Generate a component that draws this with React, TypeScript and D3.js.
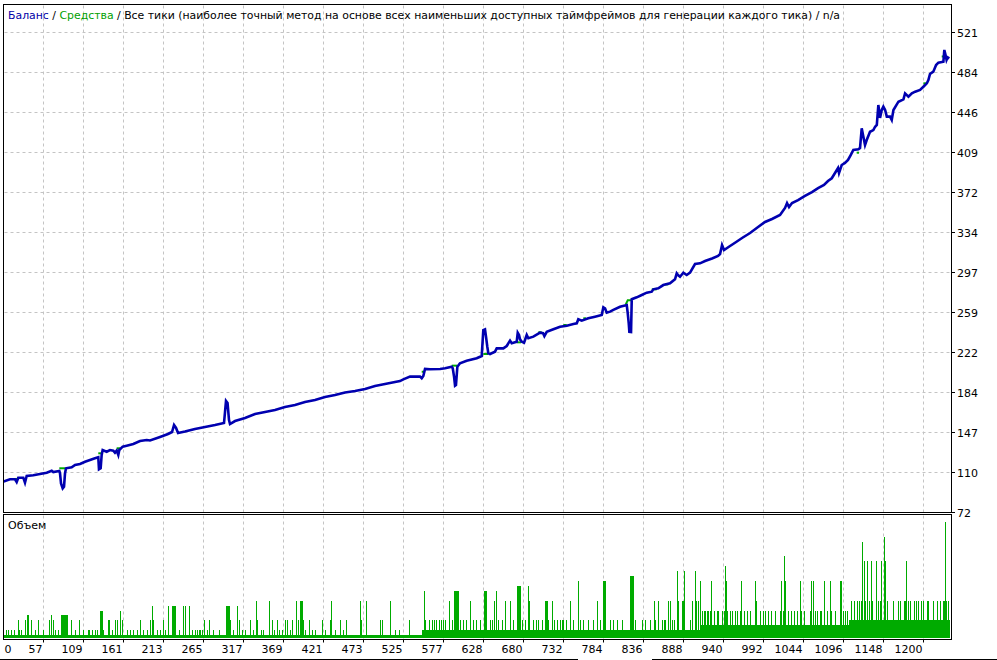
import React from "react";
import * as d3 from "d3";

const W = 997;
const H = 660;

// ---------- Data ----------
const titleParts = [
  { text: "Баланс", color: "#0000a8" },
  { text: " / ", color: "#000000" },
  { text: "Средства", color: "#00a000" },
  { text: " / Все тики (наиболее точный метод на основе всех наименьших доступных таймфреймов для генерации каждого тика) / n/a", color: "#000000" },
];

const yTickValues = [72, 109.42, 146.83, 184.25, 221.67, 259.08, 296.5, 333.92, 371.33, 408.75, 446.17, 483.58, 521];
const yTickLabels = ["72", "110", "147", "184", "222", "259", "297", "334", "372", "409", "446", "484", "521"];

const xTickValues = [57, 109, 161, 213, 265, 317, 369, 421, 473, 525, 577, 628, 680, 732, 784, 836, 888, 940, 992, 1044, 1096, 1148, 1200];
const xTickLabels = ["57", "109", "161", "213", "265", "317", "369", "421", "473", "525", "577", "628", "680", "732", "784", "836", "888", "940", "992", "1044", "1096", "1148", "1200"];

// balance curve (trade number, value)
const balanceT = [5.4, 14.1, 20.6, 22.8, 24.9, 31.4, 33.6, 35.8, 44.4, 53.1, 61.8, 68.3, 70.4, 78.2, 79.1, 80.4, 82.6, 84.3, 85.6, 86.9, 94.3, 98.6, 105.1, 111.6, 118.0, 124.5, 128.8, 129.7, 131.9, 133.2, 134.5, 139.7, 144.0, 148.3, 150.5, 152.7, 154.8, 156.1, 160.5, 165.7, 174.3, 183.0, 191.7, 196, 209, 219.4, 224.6, 227.2, 229.8, 232.4, 241.4, 254.4, 267.4, 280.4, 292.1, 293.4, 294.7, 296.7, 298.6, 299.9, 306.4, 319.4, 332.4, 345.4, 358.3, 371.3, 384.3, 397.3, 410.3, 423.3, 436.3, 449.3, 462.3, 475.3, 488.2, 501.2, 514.2, 520.7, 525.0, 533.7, 546.7, 548.9, 551.0, 553.2, 559.7, 572.7, 579.2, 587.9, 589.2, 590.9, 592.2, 593.4, 595.2, 598.6, 607.3, 620.3, 626.8, 628.9, 631.1, 632.4, 634.1, 635.4, 637.6, 644.1, 646.3, 654.9, 659.3, 663.6, 665.8, 672.3, 673.6, 675.3, 676.6, 678.8, 681.8, 685.3, 687.4, 693.9, 702.6, 706.5, 708.2, 711.3, 719.9, 728.6, 737.3, 745.9, 750.3, 752.3, 756.7, 765.3, 774.0, 782.7, 784.8, 787.0, 789.2, 793.5, 797.8, 806.5, 815.2, 816.5, 817.8, 818.6, 820.8, 821.7, 828.2, 834.7, 841.2, 847.7, 849.7, 856.2, 862.7, 871.4, 877.9, 880.1, 881.8, 884.4, 888.7, 893.1, 897.4, 903.9, 910.4, 916.9, 926.0, 933.8, 936.4, 939.0, 941.6, 949.4, 957.3, 965.0, 975.4, 985.8, 994.8, 1003.9, 1014.3, 1020.8, 1023.4, 1026.0, 1029.9, 1037.7, 1046.7, 1055.8, 1063.7, 1071.4, 1076.6, 1081.5, 1085.7, 1089.6, 1090.9, 1094.4, 1098.7, 1102.6, 1106.1, 1109.5, 1116.0, 1118.2, 1120.4, 1122.1, 1124.7, 1126.9, 1131.2, 1135.5, 1137.8, 1140.0, 1142.0, 1144.2, 1146.4, 1148.5, 1150.8, 1153.0, 1157.2, 1159.4, 1161.6, 1168.1, 1174.6, 1176.7, 1181.1, 1185.5, 1189.8, 1196.2, 1200.5, 1205.0, 1207.0, 1209.1, 1213.4, 1217.0, 1220.0, 1226.5, 1227.7, 1229.3, 1230.6, 1232.1, 1234.2];
const balanceV = [100.4, 102.6, 102.6, 100.0, 104.1, 104.1, 99.4, 105.7, 106.3, 107.5, 108.8, 110.6, 109.4, 110.4, 108.2, 98.8, 94.2, 95.7, 108.2, 112.9, 113.8, 116.0, 116.9, 119.0, 120.6, 122.2, 123.2, 112.0, 112.9, 125.3, 130.0, 128.4, 130.0, 129.4, 127.5, 129.4, 125.3, 130.0, 133.1, 134.0, 135.6, 138.4, 139.4, 138.9, 142.2, 145.0, 146.8, 153.4, 150.6, 145.9, 147.3, 149.6, 151.5, 153.3, 155.2, 165.5, 175.8, 173.9, 158.0, 154.3, 157.1, 159.9, 163.6, 165.5, 167.4, 170.2, 172.1, 174.9, 176.8, 179.6, 181.4, 183.8, 185.2, 187.1, 189.9, 191.7, 193.6, 194.5, 196.1, 198.6, 198.6, 197.1, 199.2, 205.8, 205.5, 205.8, 206.4, 207.9, 206.4, 198.6, 190.2, 190.8, 207.9, 211.1, 213.5, 215.8, 217.9, 242.2, 242.9, 236.0, 226.6, 220.5, 219.8, 222.0, 225.1, 225.1, 227.3, 232.3, 229.8, 231.3, 239.7, 237.6, 233.5, 231.3, 230.4, 237.6, 234.5, 236.0, 239.7, 239.2, 236.6, 240.6, 242.9, 245.3, 246.3, 247.9, 248.5, 252.3, 251.0, 253.2, 254.7, 256.3, 263.5, 262.5, 258.4, 259.4, 261.0, 264.0, 265.6, 257.9, 248.5, 240.6, 240.4, 271.0, 272.8, 275.0, 277.2, 278.1, 280.3, 281.2, 284.3, 285.9, 289.7, 295.3, 293.7, 292.1, 295.9, 293.7, 295.9, 304.0, 304.6, 306.8, 309.1, 311.5, 313.3, 321.7, 317.1, 320.8, 324.6, 328.3, 333.0, 338.6, 343.3, 346.1, 349.8, 356.4, 361.0, 357.3, 361.0, 363.8, 367.6, 371.3, 375.0, 377.9, 381.6, 384.2, 389.1, 393.8, 389.1, 396.6, 398.5, 401.3, 405.9, 410.6, 411.3, 412.5, 430.9, 424.7, 415.3, 420.0, 427.7, 429.3, 432.4, 434.0, 452.7, 440.6, 448.0, 451.1, 448.0, 441.8, 441.8, 438.7, 448.0, 455.8, 458.0, 463.6, 460.5, 463.6, 465.2, 466.8, 469.8, 473.0, 476.1, 481.7, 483.9, 490.1, 492.3, 493.2, 504.2, 499.5, 494.8, 497.3, 496.4];

// short visible pieces of the equity curve (trade, value)
const equitySegments: [number, number][][] = [
  [[20.6, 102.9], [23.9, 102.9]],
  [[78.2, 112.9], [85.6, 112.9]],
  [[128.8, 126.9], [133.2, 126.9]],
  [[152.7, 131.6], [157.0, 131.6]],
  [[548.9, 203.2], [552.3, 203.2]],
  [[587.9, 208.9], [594.8, 208.9]],
  [[628.9, 219.8], [635.0, 219.8]],
  [[672.3, 230.7], [677.9, 230.7]],
  [[700.3, 240.1], [704.8, 240.1]],
  [[732.9, 246.9], [737.3, 246.9]],
  [[758.8, 253.2], [762.3, 253.2]],
  [[813.9, 266.2], [816.5, 270.0], [821.7, 270.0]],
  [[847.7, 280.3], [854.2, 280.3]],
  [[865.0, 284.9], [869.2, 284.9]],
  [[1113.9, 408.1], [1116.9, 408.1]],
  [[1200.5, 473.0], [1205.0, 473.0]],
  [[1224.3, 498.1], [1228.6, 498.1]],
];

// volume: base level runs [from trade, to trade, level]
const volumeBaseRuns: [number, number, number][] = [
  [0, 549, 1],
  [549, 910, 2],
  [910, 1104, 3],
  [1104, 1235, 4],
];

// volume spikes: trade numbers and levels
const volumeT = [9, 12, 16, 19, 24, 26, 29, 34, 36, 37, 42, 47, 51, 57, 65, 67, 70, 73, 77, 80, 81, 82, 83, 84, 85, 86, 87, 88, 94, 99, 104, 109, 115, 117, 120, 125, 127, 131, 132, 133, 135, 141, 143, 146, 150, 153, 157, 159, 166, 170, 174, 179, 183, 187, 192, 196, 198, 200, 205, 209, 213, 216, 220, 225, 226, 227, 228, 229, 233, 239, 241, 246, 250, 254, 257, 259, 261, 263, 266, 270, 272, 278, 285, 295, 296, 297, 298, 300, 304, 309, 311, 315, 319, 326, 330, 334, 335, 340, 343, 350, 351, 354, 357, 361, 364, 367, 371, 374, 378, 380, 386, 388, 391, 392, 393, 395, 397, 402, 406, 410, 419, 423, 430, 431, 436, 443, 447, 451,
  469, 470, 477, 495, 497, 508, 514, 519, 533, 552, 553, 558, 562, 565, 568, 571, 574, 576, 579, 584, 588, 591, 592, 593, 594, 595, 596, 599, 603, 607, 611, 616, 620, 625, 630, 631, 632, 633, 637, 640, 643, 646, 648, 653, 657, 664, 668, 673, 674, 675, 676, 677, 679, 683, 687, 688, 694, 697, 700, 705, 709, 710, 711, 713, 718, 721, 724, 729, 731, 733, 736, 741, 746, 752, 755, 759, 765, 772, 776, 781, 785, 786, 787, 794, 798, 802, 809, 819, 820, 821, 822, 823, 826, 835, 839, 845, 850, 852, 856, 863, 871, 876, 880,
  861, 865, 869, 871, 874, 876, 881, 882, 887, 888, 889, 890, 898, 900, 904, 905, 908, 911, 913, 915, 917, 919, 921, 923, 925, 928, 932, 934, 939, 941, 943, 944, 946, 949, 952, 956, 959, 962, 964, 967, 971, 975, 982, 983, 988, 992, 995, 999, 1003, 1008, 1014, 1016, 1018, 1020, 1021, 1025, 1029, 1032, 1036, 1040, 1042, 1045, 1053, 1055, 1057, 1060, 1062, 1066, 1068, 1072, 1075, 1079, 1081, 1086, 1092, 1093, 1094, 1096, 1099, 1101,
  1107, 1111, 1114, 1117, 1119, 1121, 1123, 1125, 1127, 1130, 1132, 1134, 1139, 1141, 1144, 1146, 1149, 1151, 1153, 1161, 1168, 1170, 1175, 1177, 1178, 1180, 1183, 1188, 1191, 1194, 1197, 1200, 1205, 1207, 1213, 1218, 1222, 1226, 1227, 1229, 1230, 1232];
const volumeN = [2, 2, 2, 2, 4, 2, 2, 4, 5, 5, 4, 2, 4, 2, 4, 5, 4, 2, 2, 5, 5, 5, 5, 5, 5, 5, 5, 5, 4, 2, 4, 2, 2, 2, 2, 2, 2, 6, 6, 6, 2, 4, 4, 2, 4, 4, 6, 4, 2, 2, 2, 2, 4, 2, 2, 4, 7, 4, 2, 2, 4, 2, 7, 7, 7, 7, 7, 7, 2, 7, 7, 7, 2, 2, 2, 2, 2, 2, 4, 2, 4, 2, 2, 7, 7, 7, 7, 4, 2, 7, 4, 2, 2, 4, 2, 8, 4, 2, 2, 6, 8, 4, 2, 4, 2, 2, 4, 4, 2, 4, 8, 4, 8, 8, 8, 4, 2, 4, 2, 2, 4, 2, 4, 8, 2, 4, 2, 4,
  8, 4, 8, 4, 4, 8, 2, 2, 4, 10, 4, 4, 4, 4, 4, 4, 4, 4, 4, 8, 4, 10, 10, 10, 10, 10, 10, 4, 4, 4, 8, 4, 4, 4, 10, 10, 10, 10, 4, 4, 8, 10, 4, 4, 8, 8, 4, 11, 11, 11, 11, 11, 4, 4, 11, 8, 4, 4, 4, 4, 8, 8, 8, 4, 8, 4, 4, 4, 4, 4, 4, 8, 4, 12, 4, 4, 4, 4, 8, 4, 12, 12, 12, 4, 4, 4, 4, 13, 13, 13, 13, 13, 4, 4, 4, 4, 8, 4, 8, 4, 8, 4, 14,
  4, 4, 8, 4, 4, 4, 14, 8, 8, 8, 14, 8, 4, 8, 14, 8, 8, 12, 6, 6, 6, 6, 6, 6, 12, 6, 6, 6, 6, 6, 15, 12, 6, 6, 6, 6, 6, 6, 12, 6, 6, 6, 12, 8, 6, 6, 6, 6, 6, 6, 6, 12, 6, 17, 12, 6, 6, 6, 6, 12, 6, 6, 6, 12, 12, 6, 6, 6, 6, 12, 6, 12, 6, 6, 12, 12, 12, 6, 6, 6,
  8, 8, 8, 8, 8, 20, 16, 8, 16, 8, 16, 8, 16, 8, 8, 16, 21, 16, 8, 8, 8, 8, 8, 8, 16, 8, 8, 8, 8, 8, 8, 8, 8, 8, 8, 8, 8, 8, 8, 24, 8, 8];

// ---------- Layout constants ----------
const mainL = 3.5, mainR = 951.5, mainT = 4.5, mainB = 512.5;
const volT = 514.5, volB = 639.5;
const FONT = "'DejaVu Sans', Tahoma, sans-serif";
const BLUE = "#0000b0";
const GREEN = "#00ab00";
const GRID = "#c4c4c4";

export default function App() {
  const x = d3.scaleLinear().domain([57, 1200]).range([43, 923]);
  const y = d3.scaleLinear().domain([72, 521]).range([512, 32]);
  const v = d3.scaleLinear().domain([0, 24]).range([640, 522]);

  const balancePts: [number, number][] = balanceT.map((t, i) => [t, balanceV[i]]);
  const line = d3
    .line<[number, number]>()
    .x((d) => x(d[0]))
    .y((d) => y(d[1]));

  const volBottom = 638;

  return (
    <svg
      width={W}
      height={H}
      viewBox={`0 0 ${W} ${H}`}
      style={{ position: "absolute", left: 0, top: 0, background: "#fff" }}
      fontFamily={FONT}
    >
      <defs>
        <clipPath id="mainClip">
          <rect x={mainL + 0.5} y={mainT + 0.5} width={mainR - mainL - 1} height={mainB - mainT - 1} />
        </clipPath>
        <clipPath id="volClip">
          <rect x={mainL + 0.5} y={volT + 0.5} width={mainR - mainL - 1} height={volB - volT - 1} />
        </clipPath>
      </defs>
      <rect x={0} y={0} width={W} height={H} fill="#fff" />

      {/* grid: vertical */}
      {xTickValues.map((t, i) => {
        const gx = Math.round(x(t)) + 0.5;
        return (
          <g key={"vg" + i}>
            <line x1={gx} x2={gx} y1={mainT + 1} y2={mainB} stroke={GRID} strokeDasharray="3,3" />
            <line x1={gx} x2={gx} y1={volT + 1} y2={volB} stroke={GRID} strokeDasharray="3,3" />
            <line x1={gx} x2={gx} y1={volB} y2={volB + 3} stroke="#000" />
          </g>
        );
      })}
      {/* grid: horizontal */}
      {yTickValues.slice(1).map((val, i) => {
        const gy = Math.round(y(val)) + 0.5;
        return <line key={"hg" + i} x1={mainL + 1} x2={mainR} y1={gy} y2={gy} stroke={GRID} strokeDasharray="3,3" />;
      })}

      {/* volume bars */}
      <g clipPath="url(#volClip)" shapeRendering="crispEdges">
        {volumeBaseRuns.map((r, i) => (
          <rect
            key={"vb" + i}
            x={x(r[0])}
            width={x(r[1]) - x(r[0])}
            y={v(r[2])}
            height={volBottom - v(r[2])}
            fill={GREEN}
          />
        ))}
        {volumeT.map((t, i) => (
          <rect
            key={"vs" + i}
            x={Math.round(x(t))}
            width={1}
            y={Math.round(v(volumeN[i]))}
            height={volBottom - Math.round(v(volumeN[i]))}
            fill={GREEN}
          />
        ))}
      </g>

      {/* equity + balance */}
      <g clipPath="url(#mainClip)">
        {equitySegments.map((seg, i) => (
          <path key={"eq" + i} d={line(seg) || ""} fill="none" stroke={GREEN} strokeWidth={2} />
        ))}
        <path d={line(balancePts) || ""} fill="none" stroke={BLUE} strokeWidth={2.6} strokeLinejoin="miter" />
      </g>

      {/* frames */}
      <g fill="none" stroke="#000" shapeRendering="crispEdges">
        <rect x={mainL} y={mainT} width={mainR - mainL} height={mainB - mainT} />
        <rect x={mainL} y={volT} width={mainR - mainL} height={volB - volT} />
        <line x1={0} x2={578} y1={659.5} y2={659.5} />
        <line x1={652} x2={W} y1={659.5} y2={659.5} />
      </g>

      {/* y axis ticks and labels */}
      {yTickValues.map((val, i) => {
        const gy = Math.round(y(val)) + 0.5;
        return (
          <g key={"yt" + i}>
            <line x1={mainR} x2={mainR + 3} y1={gy} y2={gy} stroke="#000" shapeRendering="crispEdges" />
            <text x={957} y={gy + 4.5} fontSize={11} fill="#000">
              {yTickLabels[i]}
            </text>
          </g>
        );
      })}

      {/* x axis labels */}
      <text x={4.5} y={653} fontSize={11} fill="#000">
        0
      </text>
      {xTickValues.map((t, i) => (
        <text key={"xt" + i} x={Math.round(x(t)) - 0.5} y={653} fontSize={11} textAnchor="end" fill="#000">
          {xTickLabels[i]}
        </text>
      ))}

      {/* title */}
      <text x={8} y={19} fontSize={11} textLength={832} lengthAdjust="spacingAndGlyphs">
        {titleParts.map((p, i) => (
          <tspan key={i} fill={p.color}>
            {p.text}
          </tspan>
        ))}
      </text>

      {/* volume label */}
      <text x={8} y={529} fontSize={11} fill="#000">
        Объем
      </text>
    </svg>
  );
}
